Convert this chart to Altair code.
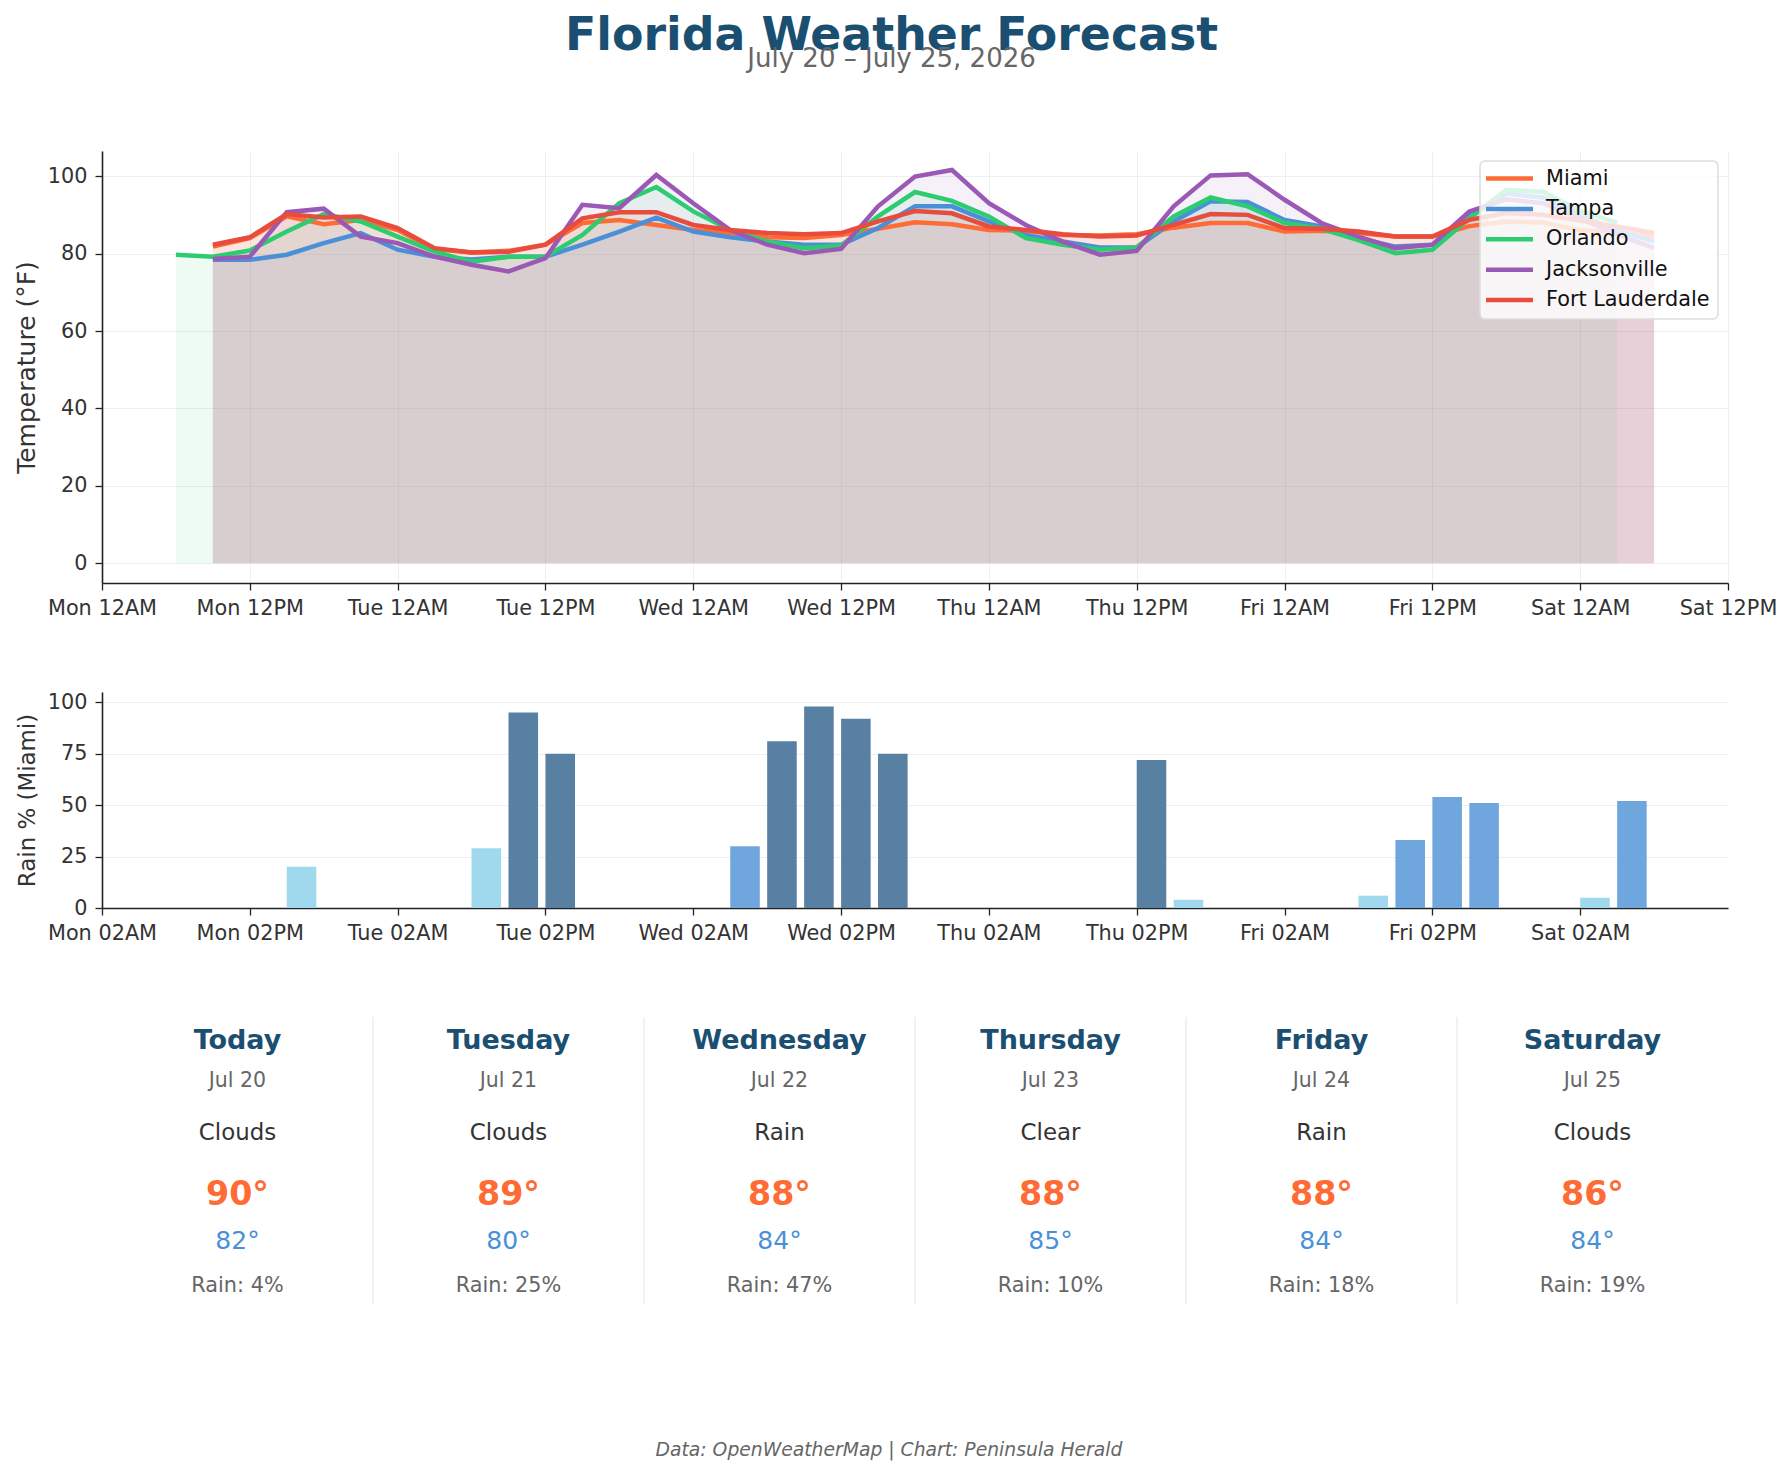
import json
import altair as alt
import pandas as pd

# ---------------- data ----------------
CITIES = ["Miami", "Tampa", "Orlando", "Jacksonville", "Fort Lauderdale"]
CITY_COLORS = ["#FF6B35", "#4A90D9", "#2ECC71", "#9B59B6", "#E74C3C"]

# forecast times, hours after Mon Jul 20 12AM (3-hourly)
HOURS_MAIN = list(range(9, 127, 3))
HOURS_ORLANDO = list(range(6, 124, 3))

MIAMI = [81.8, 84.0, 89.6, 87.6, 88.7, 86.1, 81.2, 80.3, 80.7, 82.3,
         87.9, 88.7, 87.4, 86.1, 85.3, 84.2, 84.0, 84.8, 86.4, 88.1,
         87.6, 86.1, 85.9, 84.8, 84.7, 85.0, 86.7, 87.9, 87.9, 85.7,
         85.9, 85.3, 84.4, 84.4, 87.1, 88.3, 88.0, 86.0, 85.5, 84.4]
TAMPA = [78.4, 78.4, 79.7, 82.7, 85.3, 81.0, 79.2, 78.5, 79.2, 79.2,
         82.3, 85.7, 89.3, 85.7, 84.2, 83.1, 82.3, 82.3, 86.6, 92.2,
         92.2, 88.3, 84.8, 83.1, 81.6, 81.6, 88.3, 93.5, 93.3, 88.7,
         87.0, 84.0, 81.8, 82.3, 89.6, 95.5, 94.5, 90.0, 86.0, 83.1]
ORLANDO = [79.7, 79.2, 80.8, 85.7, 90.2, 88.3, 84.4, 80.5, 77.9, 79.2,
           79.2, 84.8, 93.0, 97.2, 90.9, 86.1, 83.1, 81.4, 82.1, 89.6,
           95.9, 93.6, 89.6, 84.0, 82.3, 81.0, 81.6, 89.6, 94.5, 92.2,
           87.9, 86.4, 83.5, 80.1, 81.0, 89.1, 96.5, 96.0, 91.0, 88.0]
JACKSONVILLE = [78.6, 79.2, 90.7, 91.6, 84.4, 82.7, 79.2, 77.1, 75.4, 78.8,
                92.6, 91.7, 100.3, 93.0, 86.1, 82.3, 80.1, 81.2, 92.2, 99.9,
                101.6, 93.0, 87.4, 83.1, 79.7, 80.7, 92.2, 100.2, 100.5, 93.9,
                87.9, 84.4, 81.4, 82.3, 90.9, 94.0, 93.0, 89.0, 85.0, 81.4]
FORT_LAUDERDALE = [82.3, 84.2, 90.2, 89.3, 89.6, 86.6, 81.4, 80.3, 80.5, 82.3,
                   89.1, 90.7, 90.7, 87.4, 86.1, 85.3, 85.0, 85.3, 88.3, 91.0,
                   90.4, 87.0, 86.1, 85.0, 84.4, 84.7, 87.4, 90.2, 90.0, 86.6,
                   86.4, 85.7, 84.4, 84.4, 88.7, 90.5, 90.0, 88.5, 87.0, 85.3]

RAIN_MIAMI = [0, 0, 20, 0, 0, 0, 0, 29, 95, 75,
              0, 0, 0, 0, 30, 81, 98, 92, 75, 0,
              0, 0, 0, 0, 0, 72, 4, 0, 0, 0,
              0, 6, 33, 54, 51, 0, 0, 5, 52, 0]

TOP_TICK_LABELS = ["Mon 12AM", "Mon 12PM", "Tue 12AM", "Tue 12PM", "Wed 12AM", "Wed 12PM",
                   "Thu 12AM", "Thu 12PM", "Fri 12AM", "Fri 12PM", "Sat 12AM", "Sat 12PM"]
RAIN_TICK_LABELS = ["Mon 02AM", "Mon 02PM", "Tue 02AM", "Tue 02PM", "Wed 02AM", "Wed 02PM",
                    "Thu 02AM", "Thu 02PM", "Fri 02AM", "Fri 02PM", "Sat 02AM"]

DAYS = ["Today", "Tuesday", "Wednesday", "Thursday", "Friday", "Saturday"]
DATES = ["Jul 20", "Jul 21", "Jul 22", "Jul 23", "Jul 24", "Jul 25"]
CONDITIONS = ["Clouds", "Clouds", "Rain", "Clear", "Rain", "Clouds"]
HIGHS = [90, 89, 88, 88, 88, 86]
LOWS = [82, 80, 84, 85, 84, 84]
RAIN_CHANCE = [4, 25, 47, 10, 18, 19]

TITLE = "Florida Weather Forecast"
SUBTITLE = "July 20 \u2013 July 25, 2026"
FOOTER = "Data: OpenWeatherMap | Chart: Peninsula Herald"

# ---------------- frames ----------------
series = {"Miami": (HOURS_MAIN, MIAMI), "Tampa": (HOURS_MAIN, TAMPA),
          "Orlando": (HOURS_ORLANDO, ORLANDO), "Jacksonville": (HOURS_MAIN, JACKSONVILLE),
          "Fort Lauderdale": (HOURS_MAIN, FORT_LAUDERDALE)}
rows = []
for c in CITIES:
    hs, vs = series[c]
    for h, v in zip(hs, vs):
        rows.append({"city": c, "hour": h, "temp": v})
temp_df = pd.DataFrame(rows)

rain_df = pd.DataFrame({"hour": HOURS_MAIN, "rain": RAIN_MIAMI})

cards_df = pd.DataFrame({"idx": list(range(len(DAYS))), "day": DAYS, "date": DATES,
                         "cond": CONDITIONS, "high": HIGHS, "low": LOWS, "rain": RAIN_CHANCE})
div_df = pd.DataFrame({"pos": list(range(1, len(DAYS)))})
foot_df = pd.DataFrame({"t": [FOOTER]})
leg_df = pd.DataFrame({"city": CITIES, "li": list(range(len(CITIES)))})

FONT = "DejaVu Sans"
W = 1626
TOP_H = 432
RAIN_H = 216
CARD_H = 440

# ---------------- temperature panel ----------------
x_top = alt.X("hour:Q",
              scale=alt.Scale(domain=[0, 132], nice=False, zero=False),
              axis=alt.Axis(values=list(range(0, 133, 12)),
                            labelExpr=json.dumps(TOP_TICK_LABELS) + "[round(datum.value/12)]",
                            title=None, grid=True, labelFlush=False, labelOverlap=False))
y_top = alt.Y("temp:Q", stack=None,
              scale=alt.Scale(domain=[-5.1, 106.5], nice=False, zero=False),
              axis=alt.Axis(values=[0, 20, 40, 60, 80, 100], title="Temperature (\u00b0F)",
                            titleFontSize=25, grid=True))
city_scale = alt.Scale(domain=CITIES, range=CITY_COLORS)

area = alt.Chart(temp_df).transform_calculate(
    city_fill="datum.city"
).mark_area(fillOpacity=0.085).encode(
    x=x_top, y=y_top, y2=alt.datum(0),
    fill=alt.Fill("city_fill:N", scale=city_scale, legend=None),
    detail="city:N",
)
lines = alt.Chart(temp_df).mark_line(strokeWidth=4.5).encode(
    x=x_top, y=y_top,
    color=alt.Color("city:N", scale=city_scale, legend=None),
)

# legend (upper right, drawn inside the plot)
leg_box = alt.Chart(leg_df).transform_aggregate(n="count()").mark_rect(
    fill="#ffffff", fillOpacity=0.82, stroke="#dddddd", strokeWidth=1.5, cornerRadius=5
).encode(x=alt.value(1378), x2=alt.value(1616), y=alt.value(10), y2=alt.value(168))
leg_base = alt.Chart(leg_df).transform_calculate(py="27.5 + 30.4 * datum.li")
leg_lines = leg_base.mark_rule(strokeWidth=4.5).encode(
    x=alt.value(1384), x2=alt.value(1431),
    y=alt.Y("py:Q", scale=None, axis=None),
    color=alt.Color("city:N", scale=city_scale, legend=None),
)
leg_text = leg_base.mark_text(align="left", baseline="middle", fontSize=20.8, color="#111111").encode(
    x=alt.value(1444), y=alt.Y("py:Q", scale=None, axis=None), text="city:N")

temp_chart = alt.layer(area, lines, leg_box, leg_lines, leg_text).properties(width=W, height=TOP_H)

# ---------------- rain panel ----------------
rain_chart = alt.Chart(rain_df).transform_calculate(
    hour_end="datum.hour + 2.4",
    level="datum.rain >= 70 ? 'heavy' : (datum.rain >= 30 ? 'moderate' : 'light')",
).mark_bar().encode(
    x=alt.X("hour:Q", scale=alt.Scale(domain=[0, 132], nice=False, zero=False),
            axis=alt.Axis(values=list(range(0, 121, 12)),
                          labelExpr=json.dumps(RAIN_TICK_LABELS) + "[round(datum.value/12)]",
                          title=None, grid=False, labelFlush=False, labelOverlap=False)),
    x2="hour_end:Q",
    y=alt.Y("rain:Q", scale=alt.Scale(domain=[0, 105], nice=False),
            axis=alt.Axis(values=[0, 25, 50, 75, 100], title="Rain % (Miami)",
                          titleFontSize=22.9, grid=True)),
    y2=alt.datum(0),
    fill=alt.Fill("level:N", scale=alt.Scale(domain=["light", "moderate", "heavy"],
                                             range=["#A0D8EE", "#6FA6DE", "#5880A3"]),
                  legend=None),
).properties(width=W, height=RAIN_H)

# ---------------- daily cards ----------------
cx = alt.X("cx:Q", scale=alt.Scale(domain=[0, 6], nice=False, zero=False), axis=None)
cbase = alt.Chart(cards_df).transform_calculate(
    cx="datum.idx + 0.5",
    hi="datum.high + '\u00b0'",
    lo="datum.low + '\u00b0'",
    rn="'Rain: ' + datum.rain + '%'",
)
dividers = alt.Chart(div_df).mark_rule(color="#eeeeee", strokeWidth=1.5).encode(
    x=alt.X("pos:Q", scale=alt.Scale(domain=[0, 6], nice=False, zero=False), axis=None),
    y=alt.value(0), y2=alt.value(287))
t_day = cbase.mark_text(fontSize=27, fontWeight="bold", color="#1B4F72", baseline="alphabetic").encode(
    x=cx, y=alt.value(32), text="day:N")
t_date = cbase.mark_text(fontSize=20.5, color="#666666", baseline="alphabetic").encode(
    x=cx, y=alt.value(70), text="date:N")
t_cond = cbase.mark_text(fontSize=22.9, color="#333333", baseline="alphabetic").encode(
    x=cx, y=alt.value(123), text="cond:N")
t_hi = cbase.mark_text(fontSize=33.3, fontWeight="bold", color="#FF6B35", baseline="alphabetic").encode(
    x=cx, y=alt.value(188), text="hi:N")
t_lo = cbase.mark_text(fontSize=25, color="#4A90D9", baseline="alphabetic").encode(
    x=cx, y=alt.value(232), text="lo:N")
t_rn = cbase.mark_text(fontSize=20.8, color="#666666", baseline="alphabetic").encode(
    x=cx, y=alt.value(275), text="rn:N")
t_foot = alt.Chart(foot_df).mark_text(fontSize=18.75, fontStyle="italic", color="#666666",
                                      baseline="alphabetic").encode(
    x=alt.value(787), y=alt.value(439), text="t:N")
cards = alt.layer(dividers, t_day, t_date, t_cond, t_hi, t_lo, t_rn, t_foot).properties(
    width=W, height=CARD_H)

# ---------------- assemble ----------------
chart = alt.vconcat(temp_chart, rain_chart, cards, spacing=109, bounds="flush").resolve_scale(
    color="independent", fill="independent", x="independent", y="independent"
).properties(
    title=alt.TitleParams(text=TITLE, subtitle=SUBTITLE, font=FONT, subtitleFont=FONT,
                          fontSize=45.8, subtitleFontSize=26, fontWeight="bold",
                          color="#1B4F72", subtitleColor="#666666", anchor="middle",
                          frame="bounds", offset=78, subtitlePadding=-14, dx=-4),
    padding={"left": 14, "top": 13, "right": 4, "bottom": 4},
).configure(font=FONT).configure_view(stroke=None).configure_axis(
    domainColor="#222222", domainWidth=1.6, tickColor="#222222", tickWidth=1.3, tickSize=7,
    labelFontSize=20.8, labelColor="#333333", labelPadding=8, labelFont=FONT,
    titleColor="#333333", titleFontWeight="normal", titlePadding=8, titleFont=FONT,
    gridColor="#efefef", gridWidth=1,
)

chart.save("out.html", embed_options={"renderer": "svg", "actions": False})
